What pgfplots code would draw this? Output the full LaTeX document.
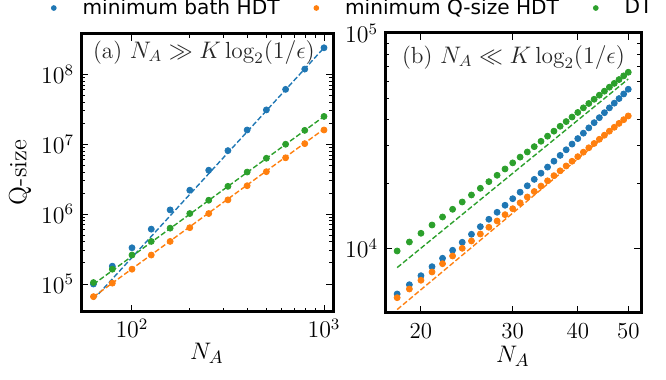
\documentclass[border=0pt]{standalone}
\usepackage{pgfplots}
\pgfplotsset{compat=1.18}
\usepackage{fontspec}
\newfontfamily\dejavu{DejaVu Sans}
\definecolor{c0}{HTML}{1F77B4}
\definecolor{c1}{HTML}{FF7F0E}
\definecolor{c2}{HTML}{2CA02C}
\pgfplotsset{
  myframe/.style={
    scale only axis,
    axis line style={line width=1.5bp},
    tick style={line width=0.5bp, black},
    major tick length=3.5bp, minor tick length=2bp,
    tick align=inside,
    tick label style={font=\fontsize{11.5}{13}\selectfont},
    label style={font=\fontsize{12.5}{14}\selectfont},
  },
}
\begin{document}
\begin{tikzpicture}
\begin{axis}[myframe, xmode=log, ymode=log,
  at={(40.5bp,34bp)}, anchor=south west, width=126bp, height=139bp,
  xmin=54.26, xmax=1114, ymin=3.98e4, ymax=3.78e8,
  xtick={100,1000}, ytick={1e5,1e6,1e7,1e8},
  xlabel={$N_A$}, ylabel={Q-size},
  x label style={at={(axis description cs:0.5,-0.148)}, anchor=center, inner sep=0pt},
  y label style={at={(axis description cs:-0.242,0.502)}, anchor=center},
  legend columns=3,
  legend image code/.code={\path (-16.2bp,0bp) (12.2bp,0bp); \draw[#1, mark size=1.2bp] plot coordinates {(0bp,0bp)};},
  legend style={at={(rel axis cs:-0.2397,1.0935)}, anchor=west, draw=none, fill=none, inner sep=0pt,
    font=\dejavu\fontsize{10.1}{12}\selectfont},
]
\addplot[only marks, mark=*, mark size=1.5bp, color=c0, mark options={draw=none, fill=c0}] coordinates {(63,1.0e5) (79,1.8e5) (100,3.3e5) (126,6.1e5) (158,1.15e6) (200,2.2e6) (251,4.25e6) (316,8.1e6) (398,1.6e7) (501,3.1e7) (631,6.1e7) (794,1.19e8) (1000,2.4e8)};
\addlegendentry{minimum bath HDT}
\addplot[only marks, mark=*, mark size=1.5bp, color=c1, mark options={draw=none, fill=c1}] coordinates {(63,6.6e4) (79,1.03e5) (100,1.63e5) (126,2.6e5) (158,4.07e5) (200,6.4e5) (251,1.02e6) (316,1.6e6) (398,2.55e6) (501,4.05e6) (631,6.4e6) (794,1.02e7) (1000,1.6e7)};
\addlegendentry{minimum Q-size HDT}
\addplot[only marks, mark=*, mark size=1.5bp, color=c2, mark options={draw=none, fill=c2}] coordinates {(63,1.05e5) (79,1.63e5) (100,2.6e5) (126,4.07e5) (158,6.3e5) (200,1.02e6) (251,1.58e6) (316,2.5e6) (398,4.0e6) (501,6.3e6) (631,1.0e7) (794,1.58e7) (1000,2.5e7)};
\addlegendentry{DT}
\addplot[c0, line width=0.7bp, dash pattern=on 2.6bp off 1.2bp, forget plot] coordinates {(63,6.0e4) (1000,2.4e8)};
\addplot[c2, line width=0.7bp, dash pattern=on 2.6bp off 1.2bp, forget plot] coordinates {(63,9.9e4) (1000,2.5e7)};
\addplot[c1, line width=0.7bp, dash pattern=on 2.6bp off 1.2bp, forget plot] coordinates {(63,6.55e4) (1000,1.65e7)};
\node[anchor=west, text=black!85, font=\fontsize{11.7}{13}\selectfont] at (rel axis cs:0.02,0.935) {(a) $N_A \gg K\log_2(1/\epsilon)$};
\end{axis}
\begin{axis}[myframe, xmode=log, ymode=log,
  at={(192.5bp,33.5bp)}, anchor=south west, width=128bp, height=140bp,
  xmin=17.06, xmax=52.9, ymin=5012, ymax=1.005e5,
  xtick={20,30,40,50}, xticklabels={20,30,40,50}, minor xtick={},
  ytick={1e4,1e5},
  xticklabel style={yshift=-1.5bp},
  xlabel={$N_A$},
  x label style={at={(axis description cs:0.5,-0.155)}, anchor=center, inner sep=0pt},
]
\addplot[only marks, mark=*, mark size=1.5bp, color=c0, mark options={draw=none, fill=c0}] coordinates {(18,6142) (19,6785) (20,7472) (21,8229) (22,9004) (23,9809) (24,10686) (25,11641) (26,12630) (27,13671) (28,14737) (29,15885) (30,17045) (31,18274) (32,19571) (33,20964) (34,22397) (35,23910) (36,25468) (37,27102) (38,28781) (39,30590) (40,32445) (41,34383) (42,36384) (43,38470) (44,40590) (45,42810) (46,45080) (47,47400) (48,49800) (49,52310) (50,55020)};
\addplot[only marks, mark=*, mark size=1.5bp, color=c1, mark options={draw=none, fill=c1}] coordinates {(18,5904) (19,6480) (20,7115) (21,7776) (22,8497) (23,9228) (24,10021) (25,10837) (26,11679) (27,12549) (28,13427) (29,14364) (30,15311) (31,16313) (32,17360) (33,18413) (34,19511) (35,20643) (36,21806) (37,22976) (38,24194) (39,25446) (40,26730) (41,28046) (42,29405) (43,30790) (44,32204) (45,33651) (46,35125) (47,36619) (48,38184) (49,39729) (50,41340)};
\addplot[only marks, mark=*, mark size=1.5bp, color=c2, mark options={draw=none, fill=c2}] coordinates {(18,9736) (19,10720) (20,11768) (21,12860) (22,14013) (23,15215) (24,16454) (25,17737) (26,19055) (27,20452) (28,21902) (29,23428) (30,25010) (31,26600) (32,28105) (33,29752) (34,31521) (35,33297) (36,35125) (37,37018) (38,38925) (39,40856) (40,42920) (41,45082) (42,47250) (43,49430) (44,51640) (45,53900) (46,56260) (47,58600) (48,61040) (49,63500) (50,66010)};
\addplot[c2, line width=0.7bp, dash pattern=on 2.6bp off 1.2bp] coordinates {(18,8150) (50,61400)};
\addplot[c1, line width=0.7bp, dash pattern=on 2.6bp off 1.2bp] coordinates {(18,5200) (50,41000)};
\node[anchor=west, text=black!85, font=\fontsize{11.7}{13}\selectfont] at (rel axis cs:0.039,0.914) {(b) $N_A \ll K\log_2(1/\epsilon)$};
\end{axis}
\pgfresetboundingbox
\path[use as bounding box] (0,0) rectangle (333bp,190bp);
\end{tikzpicture}
\end{document}
